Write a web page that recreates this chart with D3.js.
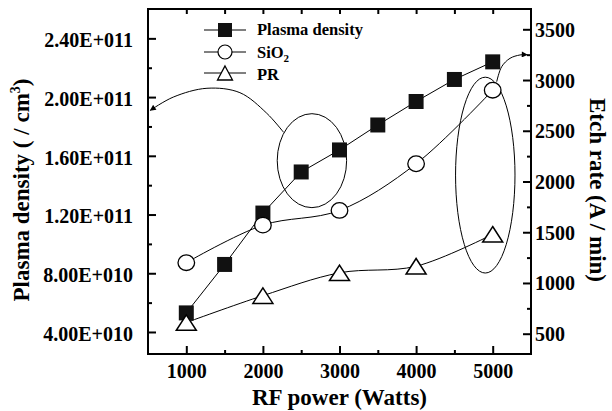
<!DOCTYPE html>
<html><head><meta charset="utf-8">
<script src="https://cdn.jsdelivr.net/npm/d3@7"></script>
<style>
body{margin:0;background:#fff;}
svg text{font-family:"Liberation Serif","Times New Roman",serif;font-weight:bold;fill:#000;}
</style></head><body>
<svg id="chart" width="612" height="411"></svg>
<script>
// ---- data ----
const power = [1000,1500,2000,2500,3000,3500,4000,4500,5000];
const plasmaDensity = [5.3e10,8.6e10,1.21e11,1.49e11,1.64e11,1.81e11,1.97e11,2.12e11,2.24e11];
const etchPower = [1000,2000,3000,4000,5000];
const sio2Rate = [1200,1570,1715,2175,2900];
const prRate = [610,875,1100,1165,1480];
const xTicks = [1000,2000,3000,4000,5000];
const xMinor = [1500,2500,3500,4500];
const leftTicks = [4e10,8e10,1.2e11,1.6e11,2.0e11,2.4e11];
const leftTickLabels = ["4.00E+010","8.00E+010","1.20E+011","1.60E+011","2.00E+011","2.40E+011"];
const leftMinor = [6e10,1.0e11,1.4e11,1.8e11,2.2e11];
const rightTicks = [500,1000,1500,2000,2500,3000,3500];
const rightMinor = [750,1250,1750,2250,2750,3250];
const legendLabels = ["Plasma density","SiO","PR"];
// annotations (data units)
const leftArrowX = [2270,2050,1700,1270,830,530];
const leftArrowY = [1.76e11,1.89e11,2.03e11,2.06e11,2.0e11,1.91e11];
const rightArrowX = [5052,5117,5226,5356,5450];
const rightArrowY = [2983,3131,3214,3247,3250];

const svg = d3.select("#chart");
const L=148,R=531,T=9,B=354;
const x = d3.scaleLinear([500,5500],[L,R]);
const yL = d3.scaleLinear([2.5e10,2.6e11],[B,T]);
const yR = d3.scaleLinear([300,3700],[B,T]);
const fmt = d3.format("d");

// arrow marker
const defs = svg.append("defs");
defs.append("marker").attr("id","ah").attr("viewBox","0 0 10 10").attr("refX",9).attr("refY",5)
  .attr("markerWidth",8).attr("markerHeight",6).attr("markerUnits","userSpaceOnUse").attr("orient","auto")
  .append("path").attr("d","M0,0 L10,5 L0,10 z").attr("fill","#000");

// annotations
const ann = svg.append("g").attr("fill","none").attr("stroke","#000").attr("stroke-width",1);
ann.append("ellipse").attr("cx",x(2640)).attr("cy",yL(1.567e11))
  .attr("rx",x(2640+453)-x(2640)).attr("ry",yL(1.567e11)-yL(1.567e11+3.2e10));
ann.append("ellipse").attr("cx",x(4903)).attr("cy",yR(2063))
  .attr("rx",x(4903+388)-x(4903)).attr("ry",yR(2063)-yR(2063+965));
ann.append("path").attr("d",d3.line().curve(d3.curveCatmullRom)(leftArrowX.map((v,i)=>[x(v),yL(leftArrowY[i])])))
  .attr("marker-end","url(#ah)");
ann.append("path").attr("d",d3.line().curve(d3.curveCatmullRom)(rightArrowX.map((v,i)=>[x(v),yR(rightArrowY[i])])))
  .attr("marker-end","url(#ah)");

// axes
function styleAxis(g){g.attr("font-family",null);g.select(".domain").remove();g.selectAll(".tick line").attr("stroke-width",2);}
svg.append("g").attr("transform",`translate(0,${B})`)
  .call(d3.axisBottom(x).tickValues(xTicks).tickFormat(fmt).tickSizeInner(-8).tickSizeOuter(0).tickPadding(10))
  .call(styleAxis).call(g=>g.selectAll("text").attr("font-size",20));
svg.append("g").attr("transform",`translate(0,${B})`)
  .call(d3.axisBottom(x).tickValues(xMinor).tickSizeInner(-4).tickSizeOuter(0).tickFormat(""))
  .call(styleAxis);
svg.append("g").attr("transform",`translate(0,${T})`)
  .call(d3.axisTop(x).tickValues(xTicks.concat(xMinor)).tickSizeInner(-5).tickSizeOuter(0).tickFormat(""))
  .call(styleAxis);
svg.append("g").attr("transform",`translate(${L},0)`)
  .call(d3.axisLeft(yL).tickValues(leftTicks).tickFormat((d,i)=>leftTickLabels[i]).tickSizeInner(-8).tickSizeOuter(0).tickPadding(15))
  .call(styleAxis).call(g=>g.selectAll("text").attr("font-size",20).attr("dy","0.42em"));
svg.append("g").attr("transform",`translate(${L},0)`)
  .call(d3.axisLeft(yL).tickValues(leftMinor).tickSizeInner(-4).tickSizeOuter(0).tickFormat(""))
  .call(styleAxis);
svg.append("g").attr("transform",`translate(${R},0)`)
  .call(d3.axisRight(yR).tickValues(rightTicks).tickFormat(fmt).tickSizeInner(-8).tickSizeOuter(0).tickPadding(4))
  .call(styleAxis).call(g=>g.selectAll("text").attr("font-size",20).attr("dy","0.35em"));
svg.append("g").attr("transform",`translate(${R},0)`)
  .call(d3.axisRight(yR).tickValues(rightMinor).tickSizeInner(-4).tickSizeOuter(0).tickFormat(""))
  .call(styleAxis);
svg.append("rect").attr("x",L).attr("y",T).attr("width",R-L).attr("height",B-T)
  .attr("fill","none").attr("stroke","#000").attr("stroke-width",2);

// axis titles
svg.append("text").attr("x",(L+R)/2).attr("y",405).attr("text-anchor","middle").attr("font-size",23).text("RF power (Watts)");
const lt = svg.append("text").attr("transform","translate(29,190) rotate(-90)").attr("text-anchor","middle").attr("font-size",23);
lt.append("tspan").text("Plasma density ( / cm");
lt.append("tspan").attr("font-size",14).attr("dy",-9).text("3");
lt.append("tspan").attr("dy",9).text(")");
svg.append("text").attr("transform","translate(590,190) rotate(90)").attr("text-anchor","middle").attr("font-size",23).text("Etch rate (A / min)");

// symbols
const sq = s=>`M${-s/2},${-s/2}h${s}v${s}h${-s}z`;
const tri = (w,h)=>`M0,${-h/2}L${w/2},${h/2}L${-w/2},${h/2}z`;

// plasma density
const line = d3.line();
const spline = d3.line().curve(d3.curveCatmullRom);
svg.append("path").attr("d",line(power.map((p,i)=>[x(p),yL(plasmaDensity[i])])))
  .attr("fill","none").attr("stroke","#000").attr("stroke-width",1);
svg.append("g").selectAll("path").data(power).join("path")
  .attr("transform",(p,i)=>`translate(${x(p)},${yL(plasmaDensity[i])})`).attr("d",sq(15)).attr("fill","#111");
// SiO2
svg.append("path").attr("d",spline(etchPower.map((p,i)=>[x(p),yR(sio2Rate[i])])))
  .attr("fill","none").attr("stroke","#000").attr("stroke-width",1);
svg.append("g").selectAll("ellipse").data(etchPower).join("ellipse")
  .attr("cx",p=>x(p)).attr("cy",(p,i)=>yR(sio2Rate[i])).attr("rx",8.3).attr("ry",7.8)
  .attr("fill","#fff").attr("stroke","#000").attr("stroke-width",1.3);
// PR
svg.append("path").attr("d",spline(etchPower.map((p,i)=>[x(p),yR(prRate[i])])))
  .attr("fill","none").attr("stroke","#000").attr("stroke-width",1);
svg.append("g").selectAll("path").data(etchPower).join("path")
  .attr("transform",(p,i)=>`translate(${x(p)},${yR(prRate[i])})`).attr("d",tri(20,15.5))
  .attr("fill","#fff").attr("stroke","#000").attr("stroke-width",1.5);

// legend
const lg = svg.append("g");
const rows = [30,52,73];
rows.forEach(y=>lg.append("line").attr("x1",204).attr("x2",246).attr("y1",y).attr("y2",y).attr("stroke","#000").attr("stroke-width",1));
lg.append("path").attr("transform",`translate(225,${rows[0]})`).attr("d",sq(14)).attr("fill","#111");
lg.append("ellipse").attr("cx",225).attr("cy",rows[1]).attr("rx",7).attr("ry",7).attr("fill","#fff").attr("stroke","#000").attr("stroke-width",1.2);
lg.append("path").attr("transform",`translate(225,${rows[2]})`).attr("d",tri(15,14)).attr("fill","#fff").attr("stroke","#000").attr("stroke-width",1.3);
lg.append("text").attr("x",257).attr("y",rows[0]+5).attr("font-size",16.5).text(legendLabels[0]);
const st = lg.append("text").attr("x",257).attr("y",rows[1]+5.5).attr("font-size",16.5);
st.append("tspan").text(legendLabels[1]);
st.append("tspan").attr("font-size",11).attr("dy",4).text("2");
lg.append("text").attr("x",257).attr("y",rows[2]+7).attr("font-size",16.5).text(legendLabels[2]);
</script></body></html>
